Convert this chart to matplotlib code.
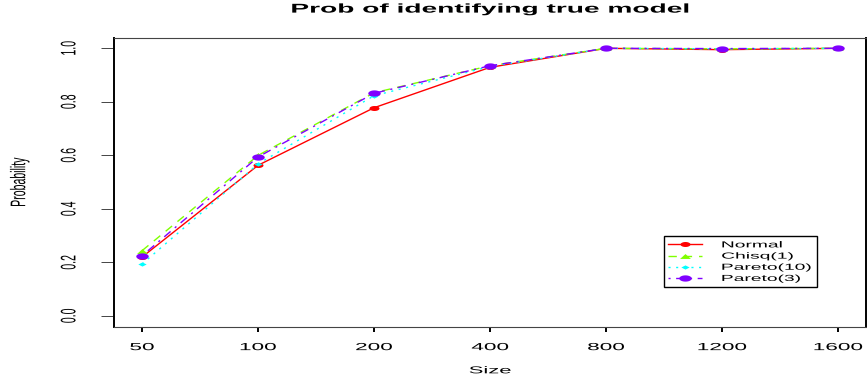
import numpy as np
import matplotlib
matplotlib.use('Agg')
import matplotlib.pyplot as plt
import matplotlib.patheffects as pe
from matplotlib.path import Path
from matplotlib.transforms import Affine2D

# dados
sizes = ['50', '100', '200', '400', '800', '1200', '1600']
normal = [0.220, 0.563, 0.778, 0.929, 1.000, 0.995, 1.000]
chisq1 = [0.244, 0.600, 0.834, 0.935, 1.000, 0.998, 1.000]
pareto10 = [0.194, 0.568, 0.823, 0.932, 1.000, 0.998, 1.000]
pareto3 = [0.225, 0.594, 0.832, 0.935, 1.000, 0.999, 1.000]
series_names = ['Normal', 'Chisq(1)', 'Pareto(10)', 'Pareto(3)']

plt.rcParams['font.family'] = ['Liberation Sans', 'DejaVu Sans']

SX = 2.2  # o grafico original esta esticado na horizontal


class Stretch(pe.AbstractPathEffect):
    # estica o texto na horizontal em torno de um ponto da caixa
    def __init__(self, sx=SX, anchor='center'):
        super().__init__()
        self.sx = sx
        self.anchor = anchor

    def draw_path(self, renderer, gc, tpath, affine, rgbFace=None):
        bb = tpath.get_extents(affine)
        x0 = {'left': bb.x0, 'center': (bb.x0 + bb.x1) / 2, 'right': bb.x1}[self.anchor]
        t = affine + Affine2D().translate(-x0, 0).scale(self.sx, 1).translate(x0, 0)
        renderer.draw_path(gc, tpath, t, rgbFace)


# marcadores achatados (como no original)
th = np.linspace(0, 2 * np.pi, 41)
ellipse = Path(np.column_stack([np.cos(th), 0.5 * np.sin(th)]))
triangle = Path([(-1, -0.45), (1, -0.45), (0, 0.45), (-1, -0.45)])
diamond = Path([(-1, 0), (0, 0.5), (1, 0), (0, -0.5), (-1, 0)])

fig = plt.figure(figsize=(8.67, 3.83), dpi=100)
ax = fig.add_axes([0.1317, 0.147, 0.8671, 0.7548])

x = np.arange(len(sizes))
ax.plot(x, normal, color='#FF0000', lw=1.0, ls='-', marker=ellipse, ms=7.2,
        mec='none', label=series_names[0])
ax.plot(x, chisq1, color='#80FF00', lw=1.0, dashes=(6, 5), marker=triangle, ms=7.8,
        mec='none', label=series_names[1])
ax.plot(x, pareto10, color='#00FFFF', lw=1.0, dashes=(1.5, 4), marker=diamond, ms=6.0,
        mec='none', label=series_names[2])
ax.plot(x, pareto3, color='#8000FF', lw=1.0, dashes=(1.5, 4, 6, 4), marker=ellipse, ms=9.0,
        mec='none', label=series_names[3])

ax.set_xlim(-0.24, len(sizes) - 1 + 0.24)
ax.set_ylim(-0.04, 1.04)
ax.set_xticks(x)
ax.set_xticklabels(sizes)
ax.set_yticks([0.0, 0.2, 0.4, 0.6, 0.8, 1.0])
ax.set_yticklabels(['0.0', '0.2', '0.4', '0.6', '0.8', '1.0'])

ax.tick_params(axis='x', length=3.6, width=1.4, labelsize=7.4, pad=7.5)
ax.tick_params(axis='y', length=9.4, width=0.7, labelsize=7.6, pad=17, labelrotation=90,
               color='#444444')
for lab in ax.get_yticklabels():
    lab.set_va('center')
    lab.set_path_effects([Stretch(sx=2.0, anchor='right')])
for lab in ax.get_xticklabels():
    lab.set_path_effects([Stretch()])

for s in ['left', 'right']:
    ax.spines[s].set_linewidth(1.4)
for s in ['top', 'bottom']:
    ax.spines[s].set_linewidth(0.8)
    ax.spines[s].set_color('#444444')

t = ax.set_title('Prob of identifying true model', fontsize=9.2, fontweight='bold', pad=18)
t.set_path_effects([Stretch()])
xl = ax.set_xlabel('Size', fontsize=7.2, labelpad=9.5)
xl.set_path_effects([Stretch()])
yl = ax.set_ylabel('Probability', fontsize=7.6, labelpad=31)
yl.set_path_effects([Stretch(sx=2.0)])

leg = ax.legend(loc='upper left', bbox_to_anchor=(0.7313, 0.3137, 0.2035, 0), mode='expand',
                borderaxespad=0, fontsize=6.3, fancybox=False, edgecolor='black',
                framealpha=1, handlelength=3.8, handletextpad=2.3, labelspacing=0.25,
                borderpad=0.5)
leg.get_frame().set_linewidth(1.0)
for txt in leg.get_texts():
    txt.set_path_effects([Stretch(anchor='left')])

fig.savefig('out.png', dpi=100)
